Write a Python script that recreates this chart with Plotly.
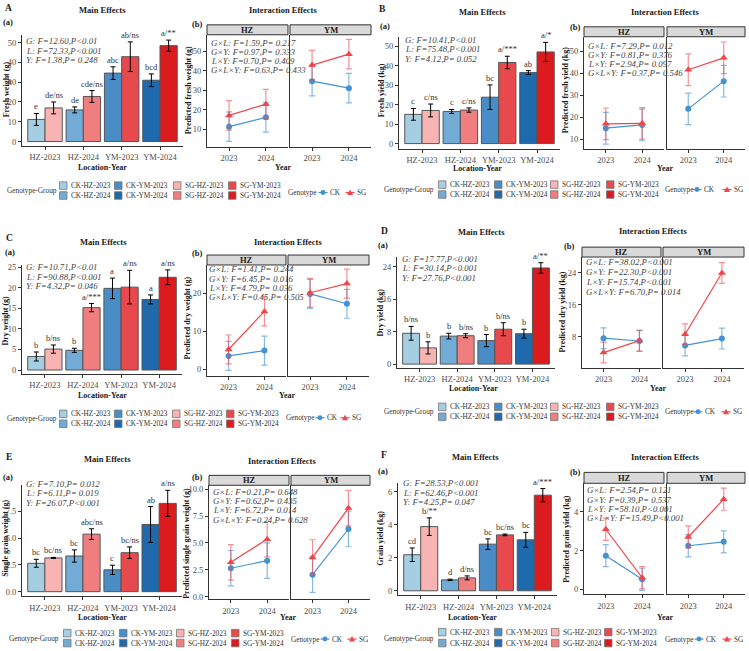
import plotly.graph_objects as go

W, H = 749, 651
FONT = "Liberation Serif"

# ---------------- data ----------------
groups = ["HZ-2023", "HZ-2024", "YM-2023", "YM-2024"]
years = ["2023", "2024"]
locations = ["HZ", "YM"]
legend_cols = [["CK-HZ-2023", "CK-HZ-2024"], ["CK-YM-2023", "CK-YM-2024"],
               ["SG-HZ-2023", "SG-HZ-2024"], ["SG-YM-2023", "SG-YM-2024"]]

# Panel A : fresh weight
A_ylab = "Fresh weight (g)"
A_ck_mean = [11.2, 16.0, 34.6, 31.0]
A_ck_se = [3.0, 1.5, 3.2, 3.2]
A_sg_mean = [17.0, 22.8, 42.9, 48.5]
A_sg_se = [3.0, 3.0, 7.5, 2.8]
A_ck_let = ["e", "de", "abc", "bcd"]
A_sg_let = ["de/ns", "cde/ns", "ab/ns", "a/**"]
A_main_stats = ["G: F=12.60,P<0.01", "L: F=72.33,P<0.001", "Y: F=1.38,P= 0.248"]
A_pred_ylab = "Predicted fresh weight (g)"
A_ck_pred = [11.2, 16.0, 34.6, 31.0]
A_sg_pred = [17.0, 22.8, 42.9, 48.5]
A_ck_ci = [7.6, 7.6, 7.6, 7.6]
A_sg_ci = [7.6, 7.6, 7.6, 7.6]
A_int_stats = ["G×L: F=1.59,P= 0.217", "G×Y: F=0.97,P= 0.333",
               "L×Y: F=0.70,P= 0.409", "G×L×Y: F=0.63,P= 0.433"]

# Panel B : fresh yield
B_ylab = "Fresh yield (kg)"
B_ck_mean = [15.0, 16.5, 23.8, 36.4]
B_ck_se = [3.0, 1.0, 6.3, 1.0]
B_sg_mean = [17.0, 17.2, 41.6, 47.0]
B_sg_se = [3.3, 1.1, 3.2, 4.9]
B_ck_let = ["c", "c", "bc", "ab"]
B_sg_let = ["c/ns", "c/ns", "a/***", "a/*"]
B_main_stats = ["G: F=10.41,P<0.01", "L: F=75.48,P<0.001", "Y: F=4.12,P= 0.052"]
B_pred_ylab = "Predicted fresh yield (kg)"
B_ck_pred = [15.0, 16.5, 23.8, 36.4]
B_sg_pred = [17.0, 17.2, 41.6, 47.0]
B_ck_ci = [7.2, 7.2, 7.2, 7.2]
B_sg_ci = [7.2, 7.2, 7.2, 7.2]
B_int_stats = ["G×L: F=7.29,P= 0.012", "G×Y: F=0.81,P= 0.376",
               "L×Y: F=2.94,P= 0.097", "G×L×Y: F=0.37,P= 0.546"]

# Panel C : dry weight
C_ylab = "Dry weight (g)"
C_ck_mean = [3.3, 4.8, 19.9, 17.2]
C_ck_se = [1.1, 0.5, 2.5, 1.1]
C_sg_mean = [5.1, 15.2, 20.2, 22.6]
C_sg_se = [1.0, 1.0, 4.1, 1.8]
C_ck_let = ["b", "b", "a", "a"]
C_sg_let = ["b/ns", "a/***", "a/ns", "a/ns"]
C_main_stats = ["G: F=10.71,P<0.01", "L: F=90.88,P<0.001", "Y: F=4.32,P= 0.046"]
C_pred_ylab = "Predicted dry weight (g)"
C_ck_pred = [3.5, 4.9, 19.8, 17.2]
C_sg_pred = [5.2, 15.2, 20.1, 22.5]
C_ck_ci = [3.8, 3.8, 3.8, 3.8]
C_sg_ci = [3.8, 3.8, 3.8, 3.8]
C_int_stats = ["G×L: F=1.41,P= 0.244", "G×Y: F=6.45,P= 0.016",
               "L×Y: F=4.79,P= 0.036", "G×L×Y: F=0.45,P= 0.505"]

# Panel D : dry yield
D_ylab = "Dry yield (kg)"
D_ck_mean = [7.6, 6.9, 5.8, 7.5]
D_ck_se = [1.7, 0.7, 1.5, 1.1]
D_sg_mean = [4.0, 7.0, 8.6, 23.7]
D_sg_se = [1.5, 0.5, 1.6, 1.3]
D_ck_let = ["b/ns", "b", "b", "b"]
D_sg_let = ["b", "b/ns", "b/ns", "a/**"]
D_main_stats = ["G: F=17.77,P<0.001", "L: F=30.14,P<0.001", "Y: F=27.76,P<0.001"]
D_pred_ylab = "Predicted dry yield (kg)"
D_ck_pred = [7.6, 6.9, 5.8, 7.5]
D_sg_pred = [4.0, 7.0, 8.6, 23.9]
D_ck_ci = [2.6, 2.6, 2.6, 2.6]
D_sg_ci = [2.6, 2.6, 2.6, 2.6]
D_int_stats = ["G×L: F=38.02,P<0.001", "G×Y: F=22.30,P<0.001",
               "L×Y: F=15.74,P<0.001", "G×L×Y: F=6.70,P= 0.014"]

# Panel E : single grain weight
E_ylab = "Single grain weight (g)"
E_ck_mean = [2.65, 3.33, 2.04, 6.27]
E_ck_se = [0.37, 0.57, 0.43, 1.67]
E_sg_mean = [3.15, 5.37, 3.64, 8.24]
E_sg_se = [0.05, 0.50, 0.54, 1.22]
E_ck_let = ["bc", "bc", "c", "ab"]
E_sg_let = ["bc/ns", "abc/ns", "bc/ns", "a/ns"]
E_main_stats = ["G: F=7.10,P= 0.012", "L: F=6.11,P= 0.019", "Y: F=26.07,P<0.001"]
E_pred_ylab = "Predicted single grain weight (g)"
E_ck_pred = [2.65, 3.35, 2.05, 6.30]
E_sg_pred = [3.20, 5.35, 3.65, 8.25]
E_ck_ci = [1.65, 1.65, 1.65, 1.65]
E_sg_ci = [1.65, 1.65, 1.65, 1.65]
E_int_stats = ["G×L: F=0.21,P= 0.648", "G×Y: F=0.62,P= 0.435",
               "L×Y: F=6.72,P= 0.014", "G×L×Y: F=0.24,P= 0.628"]

# Panel F : grain yield
F_ylab = "Grain yield (kg)"
F_ck_mean = [2.18, 0.66, 2.82, 3.08]
F_ck_se = [0.41, 0.04, 0.32, 0.45]
F_sg_mean = [3.88, 0.78, 3.38, 5.78]
F_sg_se = [0.53, 0.12, 0.05, 0.40]
F_ck_let = ["cd", "d", "bc", "bc"]
F_sg_let = ["b/**", "d/ns", "bc/ns", "a/***"]
F_main_stats = ["G: F=28.53,P<0.001", "L: F=62.46,P<0.001", "Y: F=4.25,P= 0.047"]
F_pred_ylab = "Predicted grain yield (kg)"
F_ck_pred = [1.74, 0.52, 2.25, 2.45]
F_sg_pred = [3.10, 0.60, 2.70, 4.65]
F_ck_ci = [0.57, 0.57, 0.57, 0.57]
F_sg_ci = [0.57, 0.57, 0.57, 0.57]
F_int_stats = ["G×L: F=2.54,P= 0.121", "G×Y: F=0.39,P= 0.537",
               "L×Y: F=58.10,P<0.001", "G×L×Y: F=15.49,P<0.001"]

# ---------------- styles ----------------
CK_BAR = ["#A6CEE3", "#72ABD6", "#4A8DC6", "#1F69AD"]
SG_BAR = ["#F8B4B2", "#F07E7E", "#E8494D", "#DC1B1F"]
CK_LINE = "#4393D3"
SG_LINE = "#F0454B"
CK_ERR = "rgba(67,147,211,0.65)"
SG_ERR = "rgba(240,69,75,0.6)"
AX = "#333333"
TXT = "#1a1a1a"
STAT_SIZE = 8.8
LEG_SIZE = 7.3

panels = [
    dict(key="A", ylab=A_ylab, ck=A_ck_mean, cks=A_ck_se, sg=A_sg_mean, sgs=A_sg_se,
         ckl=A_ck_let, sgl=A_sg_let, ms=A_main_stats, pylab=A_pred_ylab,
         ckp=A_ck_pred, sgp=A_sg_pred, ckc=A_ck_ci, sgc=A_sg_ci, its=A_int_stats),
    dict(key="B", ylab=B_ylab, ck=B_ck_mean, cks=B_ck_se, sg=B_sg_mean, sgs=B_sg_se,
         ckl=B_ck_let, sgl=B_sg_let, ms=B_main_stats, pylab=B_pred_ylab,
         ckp=B_ck_pred, sgp=B_sg_pred, ckc=B_ck_ci, sgc=B_sg_ci, its=B_int_stats),
    dict(key="C", ylab=C_ylab, ck=C_ck_mean, cks=C_ck_se, sg=C_sg_mean, sgs=C_sg_se,
         ckl=C_ck_let, sgl=C_sg_let, ms=C_main_stats, pylab=C_pred_ylab,
         ckp=C_ck_pred, sgp=C_sg_pred, ckc=C_ck_ci, sgc=C_sg_ci, its=C_int_stats),
    dict(key="D", ylab=D_ylab, ck=D_ck_mean, cks=D_ck_se, sg=D_sg_mean, sgs=D_sg_se,
         ckl=D_ck_let, sgl=D_sg_let, ms=D_main_stats, pylab=D_pred_ylab,
         ckp=D_ck_pred, sgp=D_sg_pred, ckc=D_ck_ci, sgc=D_sg_ci, its=D_int_stats),
    dict(key="E", ylab=E_ylab, ck=E_ck_mean, cks=E_ck_se, sg=E_sg_mean, sgs=E_sg_se,
         ckl=E_ck_let, sgl=E_sg_let, ms=E_main_stats, pylab=E_pred_ylab,
         ckp=E_ck_pred, sgp=E_sg_pred, ckc=E_ck_ci, sgc=E_sg_ci, its=E_int_stats),
    dict(key="F", ylab=F_ylab, ck=F_ck_mean, cks=F_ck_se, sg=F_sg_mean, sgs=F_sg_se,
         ckl=F_ck_let, sgl=F_sg_let, ms=F_main_stats, pylab=F_pred_ylab,
         ckp=F_ck_pred, sgp=F_sg_pred, ckc=F_ck_ci, sgc=F_sg_ci, its=F_int_stats),
]

# layout geometry (pixels)
geo = {
    "A": dict(letter=(4, 5), mt=(102, 7), it=(283, 7), la=(8, 19), lb=(197, 21),
              bar=(22, 183, 32, 144), byr=[-2.2, 54.0], bdt=10,
              hz=(207, 288), ym=(290, 371), strip=(22, 32), ib=145, iyr=[0.8, 58.5], idt=10,
              ms=(25, 38.5, 9.5), isx=(210, 40.5, 9.1),
              yl=(6, 87), pyl=(188, 88), xl=(102, 166), yr=(283, 166),
              leg=(6, 189, [63, 118, 177, 232], [184, 194]),
              gl=(287, 191, 323, 350), fmt=None),
    "B": dict(letter=(378, 6), mt=(483, 9), it=(665, 9), la=(385, 23), lb=(575, 24),
              bar=(399, 560, 34, 147), byr=[-2.7, 54.8], bdt=10,
              hz=(584, 664), ym=(667, 745), strip=(24, 34), ib=147, iyr=[5.6, 56.6], idt=10,
              ms=(404, 37, 9.5), isx=(587, 43, 9.1),
              yl=(381, 88), pyl=(565, 88), xl=(477, 167), yr=(665, 167),
              leg=(383, 188, [442, 498, 554, 610], [183, 193]),
              gl=(664, 188, 697, 727), fmt=None),
    "C": dict(letter=(5, 237), mt=(103, 241), it=(288, 241), la=(10, 251), lb=(197, 252),
              bar=(22, 182, 264, 374), byr=[-1.0, 25.6], bdt=5,
              hz=(207, 286), ym=(288, 369), strip=(254, 264), ib=376, iyr=[-1.8, 27.4], idt=10,
              ms=(25, 266.5, 9.5), isx=(208, 268.5, 9.3),
              yl=(6, 320), pyl=(188, 318), xl=(102, 396), yr=(287, 396),
              leg=(6, 419, [63, 118, 176, 230], [414, 424]),
              gl=(285, 418, 320, 345), fmt=None),
    "D": dict(letter=(380, 230), mt=(482, 231), it=(653, 230), la=(383, 244), lb=(569, 245),
              bar=(397, 555, 256, 368), byr=[-1.0, 26.4], bdt=8,
              hz=(582, 661), ym=(663, 744), strip=(246, 256), ib=368, iyr=[0.1, 27.9], idt=8,
              ms=(401, 258, 9.4), isx=(585, 261, 10.0),
              yl=(381, 312), pyl=(563, 312), xl=(473, 388), yr=(658, 388),
              leg=(383, 412, [442, 498, 554, 610], [407, 417]),
              gl=(664, 412, 698, 726), fmt=None),
    "E": dict(letter=(5, 458), mt=(107, 460), it=(282, 462), la=(8, 478), lb=(197, 478),
              bar=(22, 182, 486, 598), byr=[-0.44, 9.93], bdt=2.5,
              hz=(209, 289), ym=(291, 370), strip=(476, 486), ib=601, iyr=[-0.25, 10.37], idt=2.5,
              ms=(25, 485, 9.2), isx=(212, 492.5, 9.4),
              yl=(6, 540), pyl=(187, 545), xl=(102, 619), yr=(288, 619),
              leg=(8, 640, [67, 123, 180, 235], [635, 645]),
              gl=(290, 641, 325, 352), fmt=".1f"),
    "F": dict(letter=(380, 455), mt=(475, 458), it=(665, 458), la=(383, 472), lb=(575, 473),
              bar=(398, 557, 484, 597), byr=[-0.28, 6.5], bdt=2,
              hz=(584, 664), ym=(667, 745), strip=(473, 484), ib=596, iyr=[-0.26, 5.47], idt=2,
              ms=(402, 484, 9.3), isx=(586, 491, 9.4),
              yl=(381, 540), pyl=(567, 540), xl=(472, 619), yr=(665, 619),
              leg=(383, 640, [442, 498, 555, 608], [634, 645]),
              gl=(664, 641, 699, 727), fmt=None),
}

fig = go.Figure()
layout = {}
annotations = []
shapes = []


def PX(x):
    return x / W


def PY(y):
    return 1 - y / H


def ann(x, y, text, size, xanchor="center", yanchor="middle", angle=0, color=TXT):
    annotations.append(dict(x=PX(x), y=PY(y), xref="paper", yref="paper", text=text,
                            showarrow=False, xanchor=xanchor, yanchor=yanchor, textangle=angle,
                            font=dict(family=FONT, size=size, color=color), borderpad=0))


def axname(i, letter):
    return f"{letter}axis" if i == 1 else f"{letter}axis{i}"


def axref(i, letter):
    return letter if i == 1 else f"{letter}{i}"


def yax(i, top, bottom, rng, dtick, fmt, labels=True):
    d = dict(domain=[PY(bottom), PY(top)], range=rng, anchor=axref(i, "x"),
             showline=True, linecolor=AX, linewidth=1.1, showgrid=False, zeroline=False,
             ticks="outside" if labels else "", ticklen=3, tickcolor=AX, tickwidth=1,
             showticklabels=labels, tick0=0, dtick=dtick, fixedrange=True,
             tickfont=dict(family=FONT, size=8.5, color="#4d4d4d"))
    if fmt:
        d["tickformat"] = fmt
    return d


def xax(i, left, right, rng):
    return dict(domain=[PX(left), PX(right)], range=rng, anchor=axref(i, "y"), type="category",
                showline=True, linecolor=AX, linewidth=1.1, showgrid=False, zeroline=False,
                ticks="outside", ticklen=3, tickcolor=AX, tickwidth=1, fixedrange=True,
                tickfont=dict(family=FONT, size=8.5, color="#4d4d4d"))


for p, pan in enumerate(panels):
    g = geo[pan["key"]]
    ib_i, hz_i, ym_i = 3 * p + 1, 3 * p + 2, 3 * p + 3

    # ----- main effects bar chart -----
    l, r, t, b = g["bar"]
    layout[axname(ib_i, "x")] = xax(ib_i, l, r, [-0.6, 3.6])
    layout[axname(ib_i, "y")] = yax(ib_i, t, b, g["byr"], g["bdt"], g["fmt"])
    for mean, se, cols in ((pan["ck"], pan["cks"], CK_BAR), (pan["sg"], pan["sgs"], SG_BAR)):
        fig.add_trace(go.Bar(x=groups, y=mean, marker=dict(color=cols, line=dict(color="#555555", width=1)),
                             error_y=dict(type="data", array=se, color="black", thickness=1, width=2.5),
                             xaxis=axref(ib_i, "x"), yaxis=axref(ib_i, "y"), showlegend=False))
    for k in range(4):
        for mean, se, let, off in ((pan["ck"], pan["cks"], pan["ckl"], -0.225),
                                   (pan["sg"], pan["sgs"], pan["sgl"], 0.225)):
            annotations.append(dict(x=k + off, y=mean[k] + se[k], xref=axref(ib_i, "x"), yref=axref(ib_i, "y"),
                                    text=let[k], showarrow=False, yanchor="bottom", yshift=0,
                                    font=dict(family=FONT, size=8.5, color="#333333")))
    sx, sy, sd = g["ms"]
    for j, s in enumerate(pan["ms"]):
        ann(sx, sy + j * sd, "<i>" + s + "</i>", STAT_SIZE, xanchor="left", color="#444444")

    # ----- interaction facets -----
    st, sb = g["strip"]
    for idx, (ax_i, (fl, fr), loc) in enumerate(((hz_i, g["hz"], "HZ"), (ym_i, g["ym"], "YM"))):
        layout[axname(ax_i, "x")] = xax(ax_i, fl, fr, [-0.6, 1.6])
        layout[axname(ax_i, "y")] = yax(ax_i, sb, g["ib"], g["iyr"], g["idt"], g["fmt"], labels=(idx == 0))
        shapes.append(dict(type="rect", xref="paper", yref="paper", x0=PX(fl), x1=PX(fr),
                           y0=PY(sb), y1=PY(st), fillcolor="#D9D9D9", line=dict(color=AX, width=1)))
        ann((fl + fr) / 2, (st + sb) / 2, "<b>" + loc + "</b>", 8.5)
        sl = slice(2 * idx, 2 * idx + 2)
        for pred, ci, col, ecol, sym, msz in ((pan["ckp"], pan["ckc"], CK_LINE, CK_ERR, "circle", 6),
                                              (pan["sgp"], pan["sgc"], SG_LINE, SG_ERR, "triangle-up", 7)):
            fig.add_trace(go.Scatter(x=years, y=pred[sl], mode="lines+markers",
                                     line=dict(color=col, width=1.2),
                                     marker=dict(symbol=sym, size=msz, color=col),
                                     error_y=dict(type="data", array=ci[sl], color=ecol, thickness=1.2, width=3),
                                     xaxis=axref(ax_i, "x"), yaxis=axref(ax_i, "y"), showlegend=False))
    ix, iy, idd = g["isx"]
    for j, s in enumerate(pan["its"]):
        ann(ix, iy + j * idd, "<i>" + s + "</i>", STAT_SIZE, xanchor="left", color="#444444")

    # ----- titles -----
    ann(*g["letter"], "<b>" + pan["key"] + "</b>", 9.5, xanchor="left")
    ann(*g["mt"], "<b>Main Effects</b>", 8.5)
    ann(*g["it"], "<b>Interaction Effects</b>", 8.5)
    ann(*g["la"], "<b>(a)</b>", 8.5)
    ann(*g["lb"], "<b>(b)</b>", 8.5)
    ann(*g["yl"], "<b>" + pan["ylab"] + "</b>", 8, angle=-90)
    ann(*g["pyl"], "<b>" + pan["pylab"] + "</b>", 8, angle=-90)
    ann(*g["xl"], "<b>Location-Year</b>", 8)
    ann(*g["yr"], "<b>Year</b>", 8)

    # ----- bar legend -----
    tx, ty, cols_x, rows_y = g["leg"]
    ann(tx, ty, "Genotype-Group", LEG_SIZE, xanchor="left", color="#333333")
    allcols = [CK_BAR[0:2], CK_BAR[2:4], SG_BAR[0:2], SG_BAR[2:4]]
    for c, cx in enumerate(cols_x):
        for rr, ry in enumerate(rows_y):
            shapes.append(dict(type="rect", xref="paper", yref="paper", x0=PX(cx - 3.5), x1=PX(cx + 4),
                               y0=PY(ry + 3.8), y1=PY(ry - 3.8), fillcolor=allcols[c][rr],
                               line=dict(color="#777777", width=0.8)))
            ann(cx + 7, ry, legend_cols[c][rr], LEG_SIZE, xanchor="left", color="#333333")

    # ----- genotype legend -----
    gx, gy, ckx, sgx = g["gl"]
    ann(gx, gy, "Genotype", LEG_SIZE, xanchor="left", color="#333333")
    for mx, col, lab in ((ckx, CK_LINE, "CK"), (sgx, SG_LINE, "SG")):
        shapes.append(dict(type="line", xref="paper", yref="paper", x0=PX(mx - 4.5), x1=PX(mx + 4.5),
                           y0=PY(gy), y1=PY(gy), line=dict(color=col, width=1.2)))
        if lab == "CK":
            shapes.append(dict(type="circle", xref="paper", yref="paper", x0=PX(mx - 2.5), x1=PX(mx + 2.5),
                               y0=PY(gy + 2.5), y1=PY(gy - 2.5), fillcolor=col, line=dict(color=col, width=0)))
        else:
            path = f"M {PX(mx - 3)} {PY(gy + 2.5)} L {PX(mx + 3)} {PY(gy + 2.5)} L {PX(mx)} {PY(gy - 3)} Z"
            shapes.append(dict(type="path", xref="paper", yref="paper", path=path, fillcolor=col,
                               line=dict(color=col, width=0)))
        ann(mx + 6, gy, lab, LEG_SIZE, xanchor="left", color="#333333")

layout.update(dict(width=W, height=H, margin=dict(l=0, r=0, t=0, b=0),
                   paper_bgcolor="white", plot_bgcolor="white",
                   barmode="group", bargap=0.1, bargroupgap=0,
                   annotations=annotations, shapes=shapes, showlegend=False,
                   font=dict(family=FONT, color=TXT)))
fig.update_layout(**layout)
fig.write_html("out.html")
